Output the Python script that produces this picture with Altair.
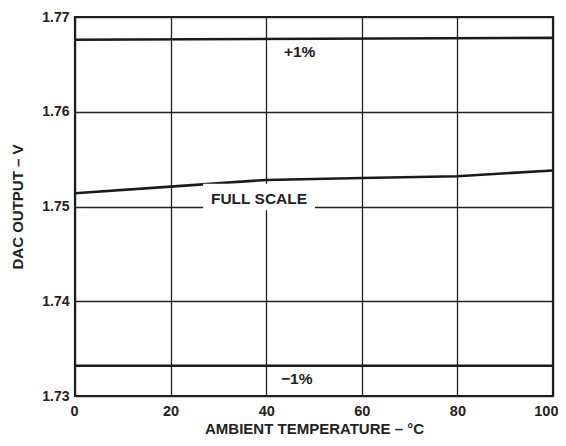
import altair as alt
import pandas as pd

temps = [0, 20, 40, 60, 80, 100]
full_scale = [1.7514, 1.7521, 1.7528, 1.7530, 1.7532, 1.7538]
plus_x = [0, 100]
plus_y = [1.7676, 1.7678]
minus_x = [0, 100]
minus_y = [1.7332, 1.7332]

label_text = ["+1%", "FULL SCALE", "\u22121%"]
label_x = [47, 38.5, 46.4]
label_y = [1.7663, 1.7508, 1.7318]

# white background box behind the FULL SCALE label
box_x = [26.8]
box_x2 = [50.2]
box_y = [1.7496]
box_y2 = [1.7524]

rows = []
for t, v in zip(temps, full_scale):
    rows.append({"series": "full", "t": t, "v": v})
for t, v in zip(plus_x, plus_y):
    rows.append({"series": "plus", "t": t, "v": v})
for t, v in zip(minus_x, minus_y):
    rows.append({"series": "minus", "t": t, "v": v})
lines_df = pd.DataFrame(rows)
labels_df = pd.DataFrame({"text": label_text, "t": label_x, "v": label_y})
box_df = pd.DataFrame({"x": box_x, "x2": box_x2, "y": box_y, "y2": box_y2})

FONT = "Liberation Sans"
INK = "#222"

xscale = alt.Scale(domain=[0, 100], nice=False)
yscale = alt.Scale(domain=[1.73, 1.77], nice=False, zero=False)

xaxis = alt.Axis(
    values=[0, 20, 40, 60, 80, 100], title="AMBIENT TEMPERATURE \u2013 \u00b0C",
    grid=True, gridColor=INK, gridWidth=1.3, gridOpacity=1,
    ticks=False, domain=False, labelPadding=8,
    labelFont=FONT, labelFontSize=14.5, labelFontWeight="bold", labelColor=INK,
    titleFont=FONT, titleFontSize=15, titleFontWeight="bold", titleColor=INK,
    titlePadding=4, labelFlush=True, labelFlushOffset=5,
)
yaxis = alt.Axis(
    values=[1.73, 1.74, 1.75, 1.76, 1.77], format=".2f", title="DAC OUTPUT \u2013 V",
    grid=True, gridColor=INK, gridWidth=1.3, gridOpacity=1,
    ticks=False, domain=False, labelPadding=6,
    labelFont=FONT, labelFontSize=14, labelFontWeight="bold", labelColor=INK,
    titleFont=FONT, titleFontSize=15, titleFontWeight="bold", titleColor=INK,
    titlePadding=16,
)

base_lines = alt.Chart(lines_df).mark_line(color="#1a1a1a", strokeWidth=2.6).encode(
    x=alt.X("t:Q", scale=xscale, axis=xaxis),
    y=alt.Y("v:Q", scale=yscale, axis=yaxis),
    detail="series:N",
)

box = alt.Chart(box_df).mark_rect(color="white").encode(
    x=alt.X("x:Q", scale=xscale), x2="x2:Q",
    y=alt.Y("y:Q", scale=yscale), y2="y2:Q",
)

labels = alt.Chart(labels_df).mark_text(
    font=FONT, fontSize=15.5, fontWeight="bold", color=INK, align="center", baseline="middle"
).encode(
    x=alt.X("t:Q", scale=xscale),
    y=alt.Y("v:Q", scale=yscale),
    text="text:N",
)

chart = alt.layer(base_lines, box, labels).properties(
    width=478, height=379,
    autosize=alt.AutoSizeParams(type="none"),
    padding={"left": 67, "top": 9, "right": 5, "bottom": 42},
    background="white",
).configure_view(stroke="#1a1a1a", strokeWidth=2.2)

chart.save("out.html", embed_options={"renderer": "svg", "actions": False})
